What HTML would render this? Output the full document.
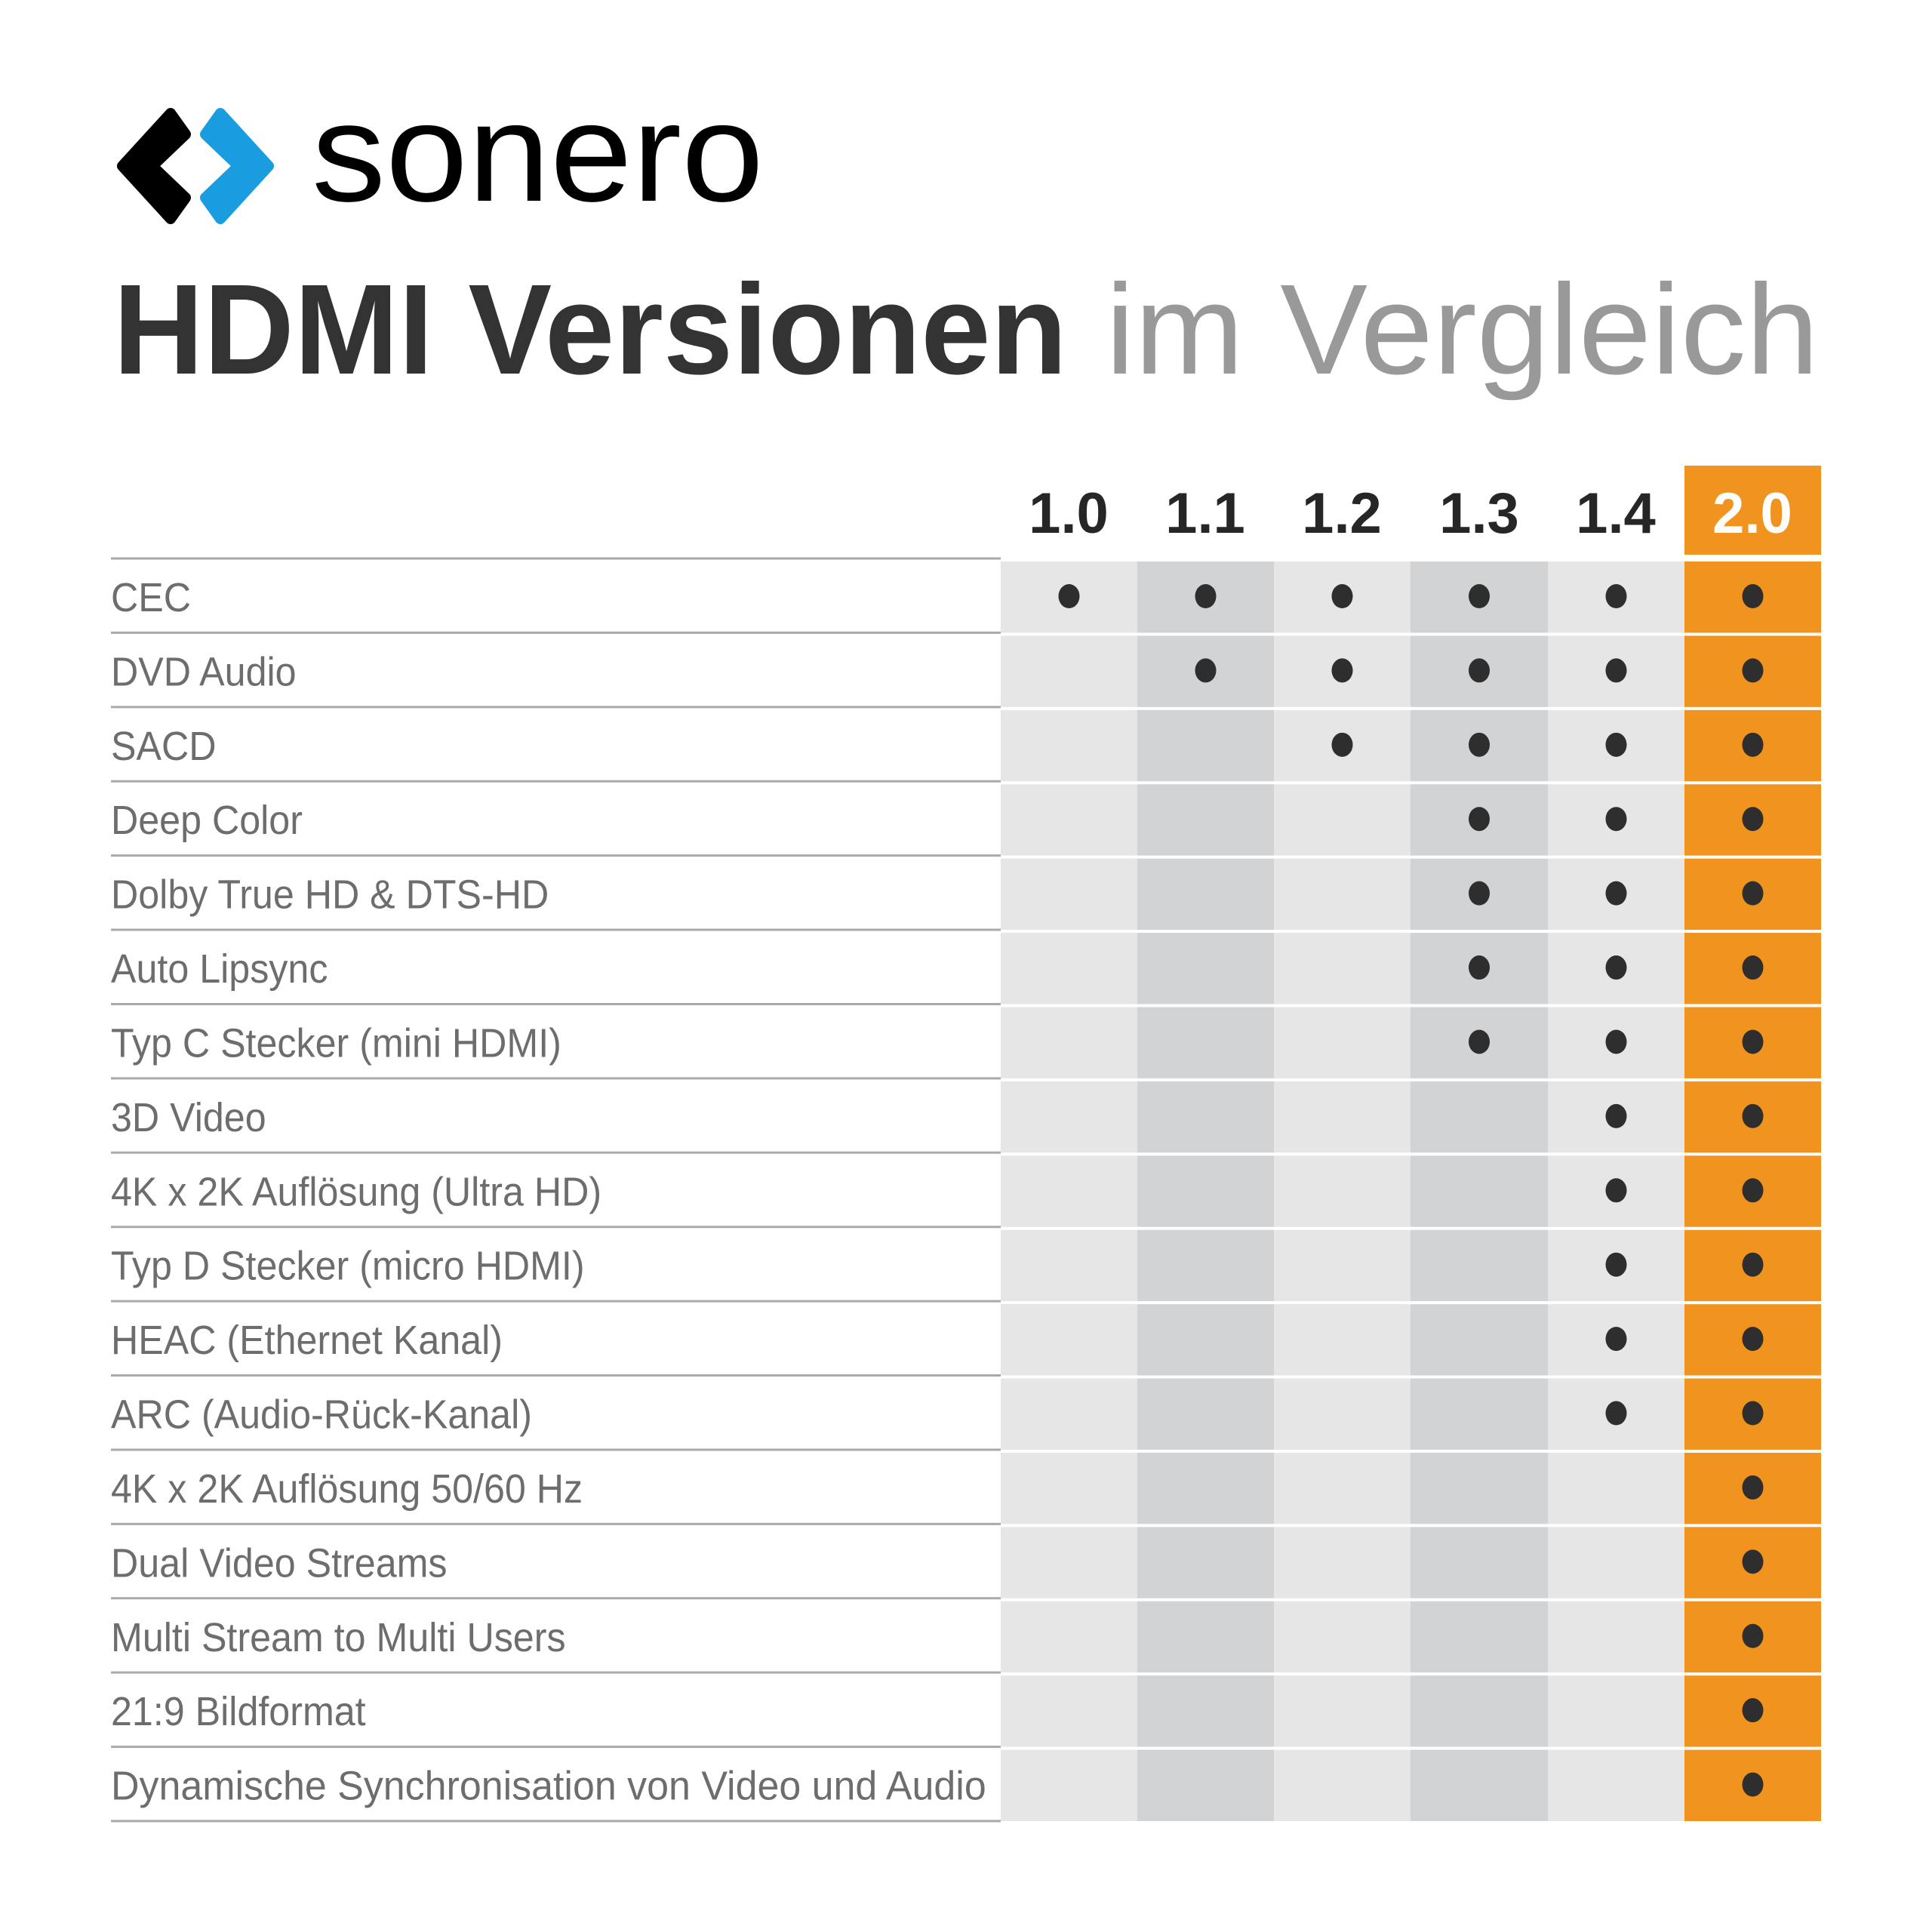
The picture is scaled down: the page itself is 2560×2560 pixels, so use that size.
<!DOCTYPE html>
<html><head><meta charset="utf-8"><style>html,body{margin:0;padding:0;background:#fff}svg{display:block}</style></head>
<body>
<svg width="2560" height="2560" viewBox="0 0 2560 2560" xmlns="http://www.w3.org/2000/svg" font-family="Liberation Sans, sans-serif">
<rect width="2560" height="2560" fill="#fff"/>
<!-- logo -->
<polygon points="226,150 246,178 202,220 246,262 226,290 162,220" fill="#000" stroke="#000" stroke-width="14" stroke-linejoin="round"/>
<polygon points="292,150 356,220 292,290 272,262 316,220 272,178" fill="#1a9ce0" stroke="#1a9ce0" stroke-width="14" stroke-linejoin="round"/>
<text x="413" y="266" font-size="186" fill="#000" textLength="599" lengthAdjust="spacingAndGlyphs">sonero</text>
<!-- title -->
<text x="150" y="495" font-size="170" font-weight="bold" fill="#333" textLength="1264" lengthAdjust="spacingAndGlyphs">HDMI Versionen</text>
<text x="1465" y="495" font-size="170" fill="#999" textLength="945" lengthAdjust="spacingAndGlyphs">im Vergleich</text>
<!-- header -->
<rect x="2232" y="617" width="181" height="118" fill="#f0941f"/>
<g font-size="76" font-weight="bold" fill="#262626" text-anchor="middle">
<text x="1416" y="706">1.0</text><text x="1597" y="706">1.1</text><text x="1778" y="706">1.2</text><text x="1960" y="706">1.3</text><text x="2141" y="706">1.4</text><text x="2322" y="706" fill="#fff">2.0</text>
</g>
<g id="rows"></g>
</svg>
<script>
const labels=["CEC","DVD Audio","SACD","Deep Color","Dolby True HD & DTS-HD","Auto Lipsync","Typ C Stecker (mini HDMI)","3D Video","4K x 2K Auflösung (Ultra HD)","Typ D Stecker (micro HDMI)","HEAC (Ethernet Kanal)","ARC (Audio-Rück-Kanal)","4K x 2K Auflösung 50/60 Hz","Dual Video Streams","Multi Stream to Multi Users","21:9 Bildformat","Dynamische Synchronisation von Video und Audio"];
const start=[0,1,2,3,3,3,3,4,4,4,4,4,5,5,5,5,5];
const cols=[1326,1507,1688,1869,2051,2232,2413];
const colors=["#e6e6e6","#d2d3d5","#e6e6e6","#d2d3d5","#e6e6e6","#f0941f"];
let s="",txt="";const t0=740,rh=(2413-740)/17;
for(let i=0;i<17;i++){const t=t0+rh*i;
s+=`<line x1="147" x2="1326" y1="${t}" y2="${t}" stroke="#aaa" stroke-width="3"/>`;
for(let c=0;c<6;c++){s+=`<rect x="${cols[c]}" y="${t+4}" width="${cols[c+1]-cols[c]}" height="${rh-4}" fill="${colors[c]}"/>`;
if(c>=start[i])s+=`<ellipse cx="${(cols[c]+cols[c+1])/2}" cy="${t+50}" rx="14" ry="16" fill="#2e2e2e"/>`;}
txt+=`<text x="0" y="${t+70}" font-size="54" fill="#6d6d6d"${i==16?' textLength="1247" lengthAdjust="spacingAndGlyphs"':''}>${labels[i].replace("&","&amp;")}</text>`;}
s+=`<line x1="147" x2="1326" y1="2413" y2="2413" stroke="#aaa" stroke-width="3"/>`;
s+=`<g transform="translate(147,0) scale(0.93,1)">${txt}</g>`;
document.getElementById("rows").innerHTML=s;
</script>
</body></html>
